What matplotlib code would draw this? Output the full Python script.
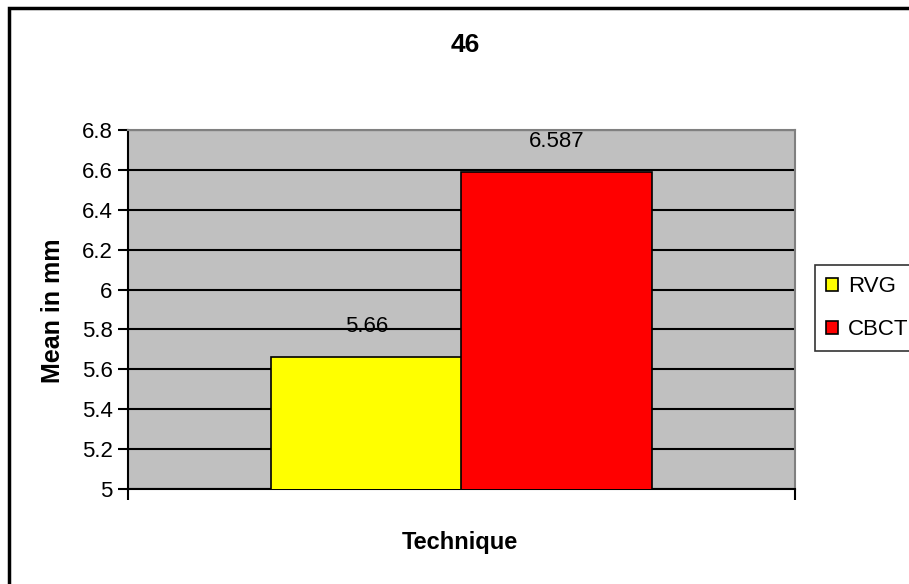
import matplotlib.pyplot as plt
import numpy as np
from matplotlib.patches import Rectangle

# mean measurement per technique
techniques = ['RVG', 'CBCT']
means = [5.66, 6.587]
colors = ['#FFFF00', '#FF0000']
yticks = [5, 5.2, 5.4, 5.6, 5.8, 6, 6.2, 6.4, 6.6, 6.8]

plt.rcParams['font.family'] = ['Liberation Sans', 'DejaVu Sans']

fig = plt.figure(figsize=(9.09, 5.84), dpi=100)
W, H = 909, 584
ax = fig.add_axes([128 / W, 1 - 489 / H, (795 - 128) / W, (489 - 130) / H])

# chart border (right and bottom run off the image)
fig.patches.append(Rectangle((9 / W, -0.1), 1.2, 1.1 - 8 / H, transform=fig.transFigure,
                             fill=False, edgecolor='black', linewidth=2.5))

ax.set_facecolor('#C0C0C0')
width = 1 / 3.5
x = np.array([-width / 2, width / 2])
bars = ax.bar(x, means, width, color=colors, edgecolor='black', linewidth=1.2,
              label=techniques, zorder=3)

for xi, v in zip(x, means):
    ax.annotate(f'{v:g}', (xi, v), xytext=(0, 22), textcoords='offset points',
                ha='center', va='center', fontsize=16, zorder=4)

ax.set_ylim(5, 6.8)
ax.set_xlim(-0.5, 0.5)
ax.set_yticks(yticks)
ax.set_yticklabels([f'{t:g}' for t in yticks], fontsize=16)
ax.set_xticks([-0.5, 0.5])
ax.set_xticklabels([])
ax.tick_params(axis='y', direction='out', length=7, width=1.5, pad=4)
ax.tick_params(axis='x', direction='out', length=8, width=1.5)
ax.grid(axis='y', color='black', linewidth=1.5, zorder=1)
ax.set_axisbelow(True)

ax.spines['left'].set_linewidth(1.5)
ax.spines['bottom'].set_linewidth(1.5)
for s in ['top', 'right']:
    ax.spines[s].set_color('#808080')
    ax.spines[s].set_linewidth(1.5)

fig.text(465 / W, 1 - 45 / H, '46', ha='center', va='center', fontsize=19,
         fontweight='bold')
fig.text(460 / W, 1 - 542 / H, 'Technique', ha='center', va='center', fontsize=17,
         fontweight='bold')
fig.text(53 / W, 1 - 311 / H, 'Mean in mm', ha='center', va='center', fontsize=18,
         fontweight='bold', rotation=90)

leg = fig.legend(bars, techniques, loc='upper left', bbox_to_anchor=(815 / W, 1 - 265 / H),
                 fontsize=16, frameon=True, fancybox=False, handlelength=0.55,
                 handleheight=0.55, handletextpad=0.45, labelspacing=1.0,
                 borderpad=0.5, borderaxespad=0)
leg.get_frame().set_edgecolor('black')
leg.get_frame().set_linewidth(1.2)

fig.savefig('out.png', dpi=100)
